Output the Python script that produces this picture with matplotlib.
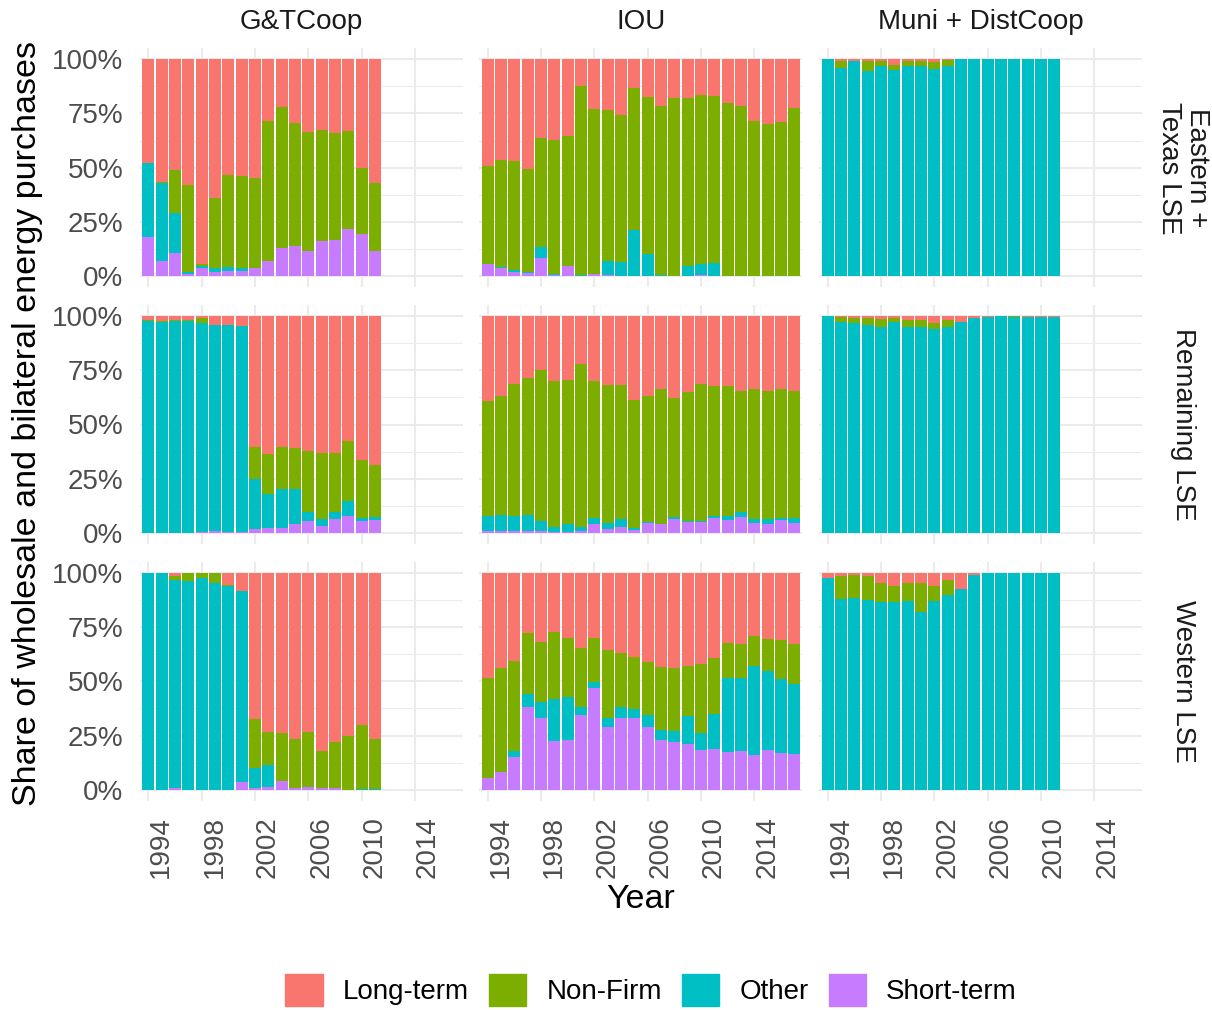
import matplotlib
matplotlib.use('Agg')
import matplotlib.pyplot as plt
from matplotlib.patches import Patch
from matplotlib.ticker import FixedLocator, FuncFormatter

plt.rcParams['font.family'] = ['Liberation Sans', 'DejaVu Sans']

# purchase types, stacked bottom to top
types = ['Short-term', 'Other', 'Non-Firm', 'Long-term']
colors = ['#C77CFF', '#00BFC4', '#7CAE00', '#F8766D']
legend_order = ['Long-term', 'Non-Firm', 'Other', 'Short-term']

lse_types = ['G&TCoop', 'IOU', 'Muni + DistCoop']
regions = ['Eastern +\nTexas LSE', 'Remaining LSE', 'Western LSE']

years_coop = list(range(1994, 2012))
years_iou = list(range(1994, 2018))

# shares in percent: [short-term, other, non-firm, long-term]
east_gt = [
    [18, 7, 11, 1, 4, 2, 2.5, 2.5, 4, 7, 13, 14, 11.5, 16.5, 17, 22, 19.5, 11.5],
    [34, 36, 18, 1, 1, 2, 2, 1.5, 0, 0, 0, 0, 0, 0, 0, 0, 0, 0],
    [0, 0.5, 20, 40, 0.5, 32, 42, 42, 41.5, 64.5, 65, 56.5, 55, 51, 49, 45, 30.5, 31.5],
    [48, 56.5, 51, 58, 94.5, 64, 53.5, 54, 54.5, 28.5, 22, 29.5, 33.5, 32.5, 34, 33, 50, 57],
]
east_iou = [
    [5.5, 4, 2, 1.5, 8.5, 0.5, 5, 0, 1, 0.5, 0, 0, 0, 0, 0, 0, 0.5, 0, 0, 0, 0, 0, 0, 0],
    [0, 0.5, 1, 0.5, 5, 0.5, 0, 0.5, 0, 6.5, 6.5, 21.5, 10.5, 0.5, 0, 5, 5, 6, 0, 0, 0, 0, 0, 0],
    [45.5, 49, 50, 47.5, 50, 62, 59.5, 87, 76, 69.5, 68, 65, 72, 78, 82, 77, 78, 77, 80, 78.5, 71.5, 70, 71, 77.5],
    [49, 46.5, 47, 50.5, 36.5, 37, 35.5, 12.5, 23, 23.5, 25.5, 13.5, 17.5, 21.5, 18, 18, 16.5, 17, 20, 21.5, 28.5, 30, 29, 22.5],
]
east_muni = [
    [0] * 18,
    [100, 96, 99, 94.5, 97, 95, 97, 97, 95.5, 97, 100, 100, 100, 100, 100, 100, 100, 100],
    [0, 3, 0, 4.5, 2, 2.5, 2, 2, 3, 2.5, 0, 0, 0, 0, 0, 0, 0, 0],
    [0, 1, 1, 1, 1, 2.5, 1, 1, 1.5, 0.5, 0, 0, 0, 0, 0, 0, 0, 0],
]

rest_gt = [
    [0, 0, 0, 0, 0.5, 1, 0.5, 0.5, 2, 2.5, 2.5, 4, 5.5, 3.5, 6.5, 8, 5.5, 6],
    [97.5, 97, 97.5, 97.5, 96, 95, 95.5, 95, 23, 15.5, 18, 16.5, 4, 3, 3, 7, 1.5, 1.5],
    [0.5, 0.5, 0.5, 0.5, 2.5, 0, 0, 0, 14.5, 18.5, 19, 18.5, 28.5, 30.5, 27.5, 27.5, 26.5, 24],
    [2, 2.5, 2, 2, 1, 4, 4, 4.5, 60.5, 63.5, 60.5, 61, 62, 63, 63, 57.5, 66.5, 68.5],
]
rest_iou = [
    [1, 1, 1, 1, 1, 0.5, 0.5, 1, 4, 2, 3, 1.5, 4.5, 4, 6.5, 5, 5, 7, 6, 7.5, 4.5, 4, 6, 4.5],
    [7, 7.5, 7, 7.5, 4.5, 2.5, 3.5, 2, 3, 2.5, 3.5, 1, 0.5, 0, 1, 0.5, 0.5, 1, 2, 2, 2, 2.5, 1, 2.5],
    [53, 54.5, 60.5, 63, 69.5, 67, 66.5, 75, 63, 63.5, 61.5, 59, 58, 62.5, 54.5, 59.5, 63, 59.5, 59.5, 56, 60, 59, 59.5, 58.5],
    [39, 37, 31.5, 28.5, 25, 30, 29.5, 22, 30, 32, 32, 38.5, 37, 33.5, 38, 35, 31.5, 32.5, 32.5, 34.5, 33.5, 34.5, 33.5, 34.5],
]
rest_muni = [
    [0] * 18,
    [100, 97, 96.5, 96, 95, 97, 95, 95, 94, 95, 97, 99, 99.5, 100, 99.5, 99.5, 99.5, 99.5],
    [0, 2.5, 2.5, 3, 3.5, 2, 3, 3, 2.5, 3, 0, 0, 0, 0, 0.5, 0, 0, 0],
    [0, 0.5, 1, 1, 1.5, 1, 2, 2, 3.5, 2, 3, 1, 0.5, 0, 0, 0.5, 0.5, 0.5],
]

west_gt = [
    [0, 0, 1, 0, 0, 0, 0, 3.5, 1, 1.5, 4, 1, 1.5, 1, 1, 0, 0, 0],
    [100, 100, 95.5, 96, 97.5, 95, 94, 88, 9, 10, 0, 0, 0, 0, 0, 0, 0.5, 0.5],
    [0, 0, 2, 4, 2.5, 5, 0.5, 0, 22.5, 15, 22, 22.5, 25, 17, 21, 25, 29.5, 23],
    [0, 0, 1.5, 0, 0, 0, 5.5, 8.5, 67.5, 73.5, 74, 76.5, 73.5, 82, 78, 75, 70, 76.5],
]
west_iou = [
    [5.5, 8, 15, 38, 33, 22.5, 23, 34.5, 47, 29, 33, 33, 29, 23, 22, 21, 18.5, 19, 17.5, 18, 16, 18.5, 17, 16.5],
    [0, 0, 3, 6, 7.5, 19.5, 19.5, 3.5, 2.5, 4, 5, 4, 5.5, 4.5, 5, 13, 7.5, 16, 34, 33.5, 41, 36, 34, 32],
    [46, 48, 41.5, 28, 27.5, 30.5, 27.5, 27.5, 20.5, 31.5, 25, 24, 24.5, 29, 29, 23, 32, 25.5, 16, 15.5, 14, 15, 18, 18.5],
    [48.5, 44, 40.5, 28, 32, 27.5, 30, 34.5, 30, 35.5, 37, 39, 41, 43.5, 44, 43, 42, 39.5, 32.5, 33, 29, 30.5, 31, 33],
]
west_muni = [
    [0] * 18,
    [97.5, 88, 88.5, 87.5, 86.5, 86.5, 87, 82, 87, 89.5, 92.5, 99, 100, 100, 100, 100, 100, 100],
    [0, 10.5, 10.5, 11, 8.5, 7.5, 8, 13, 7, 7, 0, 0, 0, 0, 0, 0, 0, 0],
    [2.5, 1.5, 1, 1.5, 5, 6, 5, 5, 6, 3.5, 7.5, 1, 0, 0, 0, 0, 0, 0],
]

grid = [
    [(years_coop, east_gt), (years_iou, east_iou), (years_coop, east_muni)],
    [(years_coop, rest_gt), (years_iou, rest_iou), (years_coop, rest_muni)],
    [(years_coop, west_gt), (years_iou, west_iou), (years_coop, west_muni)],
]

W, H = 1212, 1010
fig = plt.figure(figsize=(W / 100, H / 100), dpi=100)

lefts = [140, 479.4, 819.4]
tops = [48.3, 305, 561.7]
pw, ph = 322.6, 239

x_ticks = [1994, 1998, 2002, 2006, 2010, 2014]
grey = '#4D4D4D'
fs = 20

for r in range(3):
    for c in range(3):
        ax = fig.add_axes([lefts[c] / W, 1 - (tops[r] + ph) / H, pw / W, ph / H])
        years, shares = grid[r][c]
        bottom = [0] * len(years)
        for vals, col in zip(shares, colors):
            ax.bar(years, vals, bottom=bottom, width=0.9, color=col,
                   linewidth=0, zorder=2)
            bottom = [b + v for b, v in zip(bottom, vals)]

        ax.set_xlim(1993.38, 2017.58)
        ax.set_ylim(-5, 105)
        ax.yaxis.set_major_locator(FixedLocator([0, 25, 50, 75, 100]))
        ax.yaxis.set_minor_locator(FixedLocator([12.5, 37.5, 62.5, 87.5]))
        ax.xaxis.set_major_locator(FixedLocator(x_ticks))
        ax.grid(which='major', color='#EBEBEB', linewidth=1.5, zorder=0)
        ax.grid(which='minor', axis='y', color='#EBEBEB', linewidth=0.75, zorder=0)
        ax.set_axisbelow(True)
        for s in ax.spines.values():
            s.set_visible(False)
        ax.tick_params(which='both', length=0)

        if c == 0:
            ax.yaxis.set_major_formatter(FuncFormatter(lambda v, p: f'{v:.0f}%'))
            ax.tick_params(axis='y', labelsize=fs, labelcolor=grey, pad=12)
        else:
            ax.set_yticklabels([])
        if r == 2:
            ax.set_xticks(x_ticks)
            ax.set_xticklabels([str(x) for x in x_ticks], rotation=90,
                               ha='left', va='top')
            ax.tick_params(axis='x', labelsize=fs, labelcolor=grey, pad=11)
        else:
            ax.set_xticklabels([])

# facet strips
for c, name in enumerate(lse_types):
    fig.text((lefts[c] + pw / 2) / W, 1 - 22 / H, name, ha='center', va='center',
             fontsize=fs, color='#1A1A1A')
for r, name in enumerate(regions):
    fig.text(1183 / W, 1 - (tops[r] + ph / 2) / H, name, ha='center', va='center',
             rotation=270, multialignment='center', fontsize=fs, color='#1A1A1A',
             linespacing=1.05)

fig.text(28 / W, 1 - 424 / H, 'Share of wholesale and bilateral energy purchases',
         rotation=90, ha='center', va='center', fontsize=24.5)
fig.text(641 / W, 1 - 899 / H, 'Year', ha='center', va='center', fontsize=24.5)

handles = [Patch(color=colors[types.index(t)]) for t in legend_order]
fig.legend(handles, legend_order, loc='center', bbox_to_anchor=(651 / W, 1 - 990 / H),
           ncol=4, frameon=False, fontsize=fs, handlelength=1.35, handleheight=1.35,
           handletextpad=0.72, columnspacing=0.72)

fig.savefig('out.png', dpi=100)
